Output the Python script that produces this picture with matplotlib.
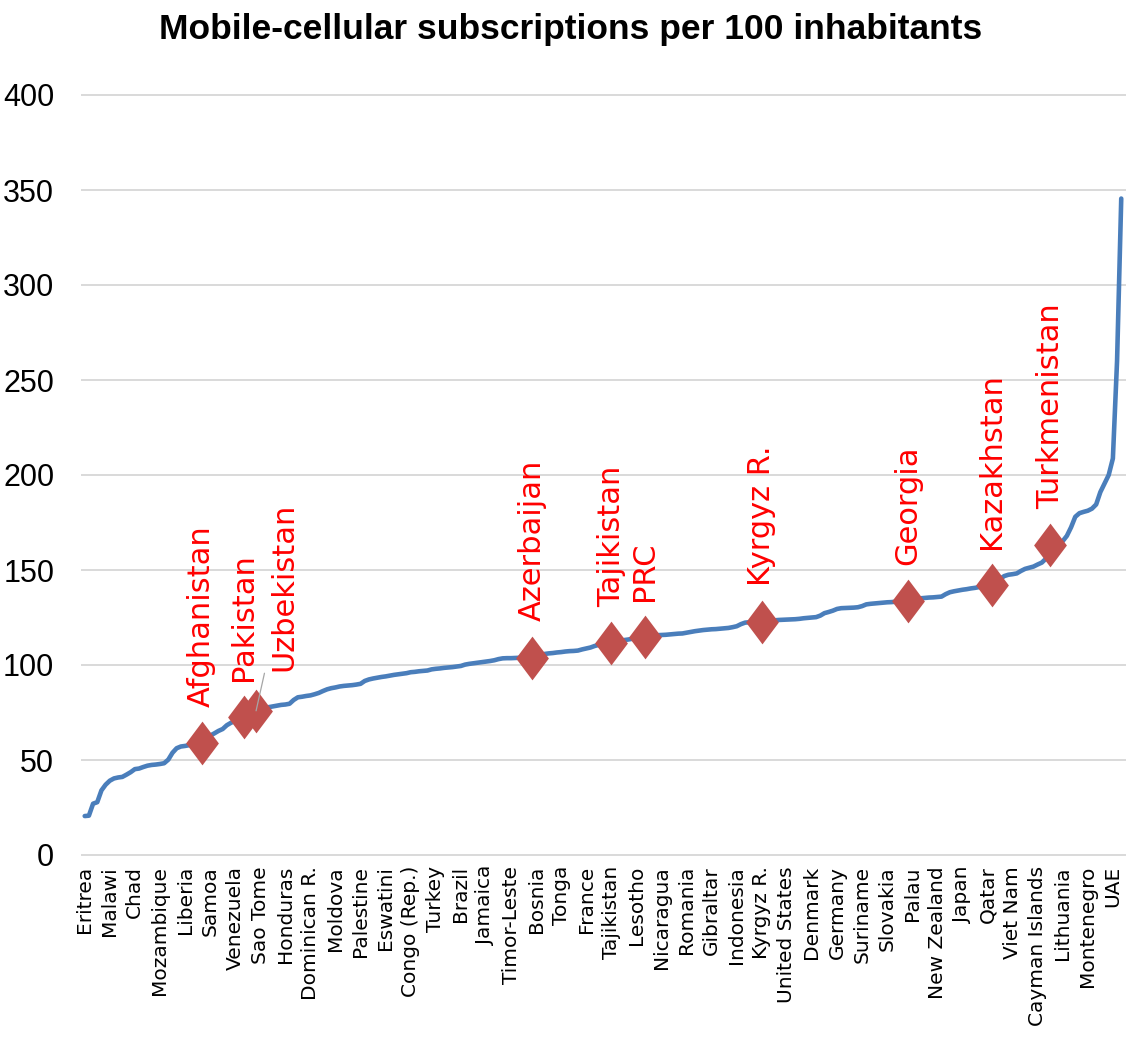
import matplotlib
matplotlib.use("Agg")
import matplotlib.pyplot as plt
import numpy as np
from matplotlib.path import Path

# Mobile-cellular subscriptions per 100 inhabitants, economies sorted low -> high
subs = [
    20.5, 20.7, 27.0, 27.8, 34.0, 37.0, 39.1, 40.3, 40.8, 41.1, 42.3, 43.6,
    45.2, 45.5, 46.3, 47.0, 47.4, 47.6, 47.9, 48.3, 50.2, 53.8, 56.2, 57.1,
    57.4, 57.8, 58.5, 59.0, 59.1, 61.0, 62.8, 64.0, 65.3, 66.3, 68.3, 69.6,
    70.5, 71.6, 72.8, 73.8, 74.9, 75.9, 76.8, 77.4, 77.8, 78.2, 78.6, 79.0,
    79.2, 79.6, 81.6, 83.0, 83.3, 83.7, 84.0, 84.6, 85.3, 86.3, 87.2, 87.8,
    88.2, 88.7, 89.0, 89.2, 89.4, 89.7, 90.1, 91.6, 92.4, 92.9, 93.3, 93.7,
    94.0, 94.4, 94.8, 95.1, 95.4, 95.7, 96.2, 96.4, 96.7, 96.9, 97.1, 97.7,
    98.0, 98.2, 98.5, 98.7, 98.9, 99.2, 99.5, 100.2, 100.6, 100.9, 101.2, 101.5,
    101.8, 102.1, 102.5, 103.1, 103.5, 103.6, 103.6, 103.7, 103.8, 103.9, 103.9, 103.9,
    104.6, 105.3, 105.8, 106.1, 106.3, 106.6, 106.8, 107.1, 107.3, 107.4, 107.6, 108.2,
    108.7, 109.2, 110.0, 110.6, 110.9, 111.2, 111.4, 111.9, 112.6, 113.1, 113.4, 113.8,
    114.2, 114.6, 114.9, 115.3, 115.5, 115.7, 115.8, 115.9, 116.1, 116.3, 116.5, 116.6,
    117.0, 117.4, 117.8, 118.1, 118.4, 118.6, 118.8, 118.9, 119.1, 119.3, 119.5, 119.9,
    120.4, 121.5, 122.3, 122.5, 122.6, 122.7, 122.8, 123.1, 123.3, 123.5, 123.7, 123.8,
    123.9, 124.0, 124.1, 124.3, 124.6, 124.8, 125.0, 125.2, 126.0, 127.3, 127.9, 128.6,
    129.5, 129.9, 130.0, 130.1, 130.2, 130.4, 131.0, 131.9, 132.2, 132.4, 132.6, 132.8,
    133.0, 133.1, 133.3, 133.5, 133.7, 133.8, 134.4, 134.9, 135.1, 135.3, 135.5, 135.6,
    135.8, 136.0, 137.3, 138.3, 138.8, 139.2, 139.6, 139.9, 140.3, 140.6, 141.0, 141.4,
    141.8, 142.1, 143.5, 145.2, 146.8, 147.5, 147.8, 148.2, 149.5, 150.6, 151.2, 151.8,
    152.9, 153.9, 156.0, 163.2, 164.0, 164.5, 165.2, 168.0, 172.5, 178.0, 179.9, 180.6,
    181.2, 182.3, 184.5, 191.0, 195.5, 200.0, 208.7, 260.0, 345.5,
]

# every 6th economy gets an axis label
tick_labels = [
    "Eritrea", "Malawi", "Chad", "Mozambique", "Liberia", "Samoa", "Venezuela",
    "Sao Tome", "Honduras", "Dominican R.", "Moldova", "Palestine", "Eswatini",
    "Congo (Rep.)", "Turkey", "Brazil", "Jamaica", "Timor-Leste", "Bosnia", "Tonga",
    "France", "Tajikistan", "Lesotho", "Nicaragua", "Romania", "Gibraltar",
    "Indonesia", "Kyrgyz R.", "United States", "Denmark", "Germany", "Suriname",
    "Slovakia", "Palau", "New Zealand", "Japan", "Qatar", "Viet Nam",
    "Cayman Islands", "Lithuania", "Montenegro", "UAE",
]
tick_step = 6

# highlighted economies and their position in the sorted list
hl_names = ["Afghanistan", "Pakistan", "Uzbekistan", "Azerbaijan", "Tajikistan",
            "PRC", "Kyrgyz R.", "Georgia", "Kazakhstan", "Turkmenistan"]
hl_pos = [28, 38, 41, 107, 126, 134, 162, 197, 217, 231]

subs = np.array(subs)
x = np.arange(len(subs))

W, H = 1127, 1037
fig = plt.figure(figsize=(W / 100, H / 100), dpi=100)
ax = fig.add_axes([82 / W, (H - 855) / H, (1125 - 82) / W, (855 - 95) / H])

ax.plot(x, subs, color="#4a7ebb", lw=3.3, solid_joinstyle="round",
        solid_capstyle="round", zorder=3)

# slightly narrow diamond
diamond = Path([(0, 1), (0.75, 0), (0, -1), (-0.75, 0), (0, 1)],
               [Path.MOVETO, Path.LINETO, Path.LINETO, Path.LINETO, Path.CLOSEPOLY])
hx = np.array(hl_pos)
ax.plot(hx, subs[hx], ls="none", marker=diamond, ms=31.5,
        mfc="#c0504d", mec="#c0504d", mew=0, zorder=4)

for name, p in zip(hl_names, hl_pos):
    if name == "Uzbekistan":
        ax.annotate(name, (p, subs[p]), xytext=(20, 29), textcoords="offset points",
                    rotation=90, ha="center", va="bottom", color="red",
                    fontsize=22, family="DejaVu Sans", zorder=6,
                    arrowprops=dict(arrowstyle="-", color="#a6a6a6", lw=0.9,
                                    shrinkA=7, shrinkB=0))
    else:
        ax.annotate(name, (p, subs[p]), xytext=(0, 26), textcoords="offset points",
                    rotation=90, ha="center", va="bottom", color="red",
                    fontsize=22, family="DejaVu Sans", zorder=6)

ax.set_xlim(-0.65, 248.9)
ax.set_ylim(0, 400)
ax.set_yticks(np.arange(0, 401, 50))
ax.set_xticks(np.arange(0, len(tick_labels) * tick_step, tick_step))
ax.set_xticklabels(tick_labels, rotation=90, va="top", ha="center",
                   fontsize=14.5, family="DejaVu Sans")
for lab in ax.get_yticklabels():
    lab.set_family(["Liberation Sans", "DejaVu Sans"])
    lab.set_fontsize(22)
ax.tick_params(axis="both", length=0)
ax.tick_params(axis="y", pad=20)
ax.tick_params(axis="x", pad=8)

ax.yaxis.grid(True, color="#d9d9d9", lw=1.4)
ax.set_axisbelow(True)
for gl in ax.get_ygridlines():
    gl.set_clip_on(False)
for s in ax.spines.values():
    s.set_visible(False)

fig.text(571 / W, 1 - 30 / H, "Mobile-cellular subscriptions per 100 inhabitants",
         ha="center", va="center", fontsize=25.5, fontweight="bold",
         family=["Liberation Sans", "DejaVu Sans"])

fig.savefig("out.png", dpi=100)
